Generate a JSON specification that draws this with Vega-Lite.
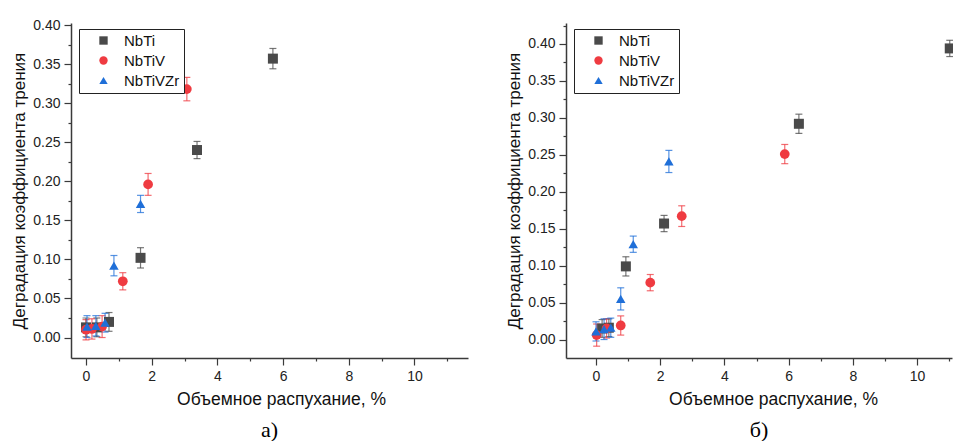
{
  "$schema": "https://vega.github.io/schema/vega-lite/v6.json",
  "background": "white",
  "padding": {"left": 10, "top": 18, "right": 0, "bottom": 0},
  "bounds": "flush",
  "spacing": 98,
  "config": {
    "view": {"stroke": null},
    "font": "Liberation Sans",
    "axis": {
      "grid": false,
      "domainColor": "#3a3a3a",
      "domainWidth": 1.5,
      "tickColor": "#3a3a3a",
      "tickWidth": 1.2,
      "labelFont": "Liberation Sans",
      "labelFontSize": 14,
      "labelColor": "#222222",
      "labelPadding": 4,
      "labelOverlap": false,
      "labelFlush": false,
      "titleFont": "Liberation Sans",
      "titleFontSize": 17.5,
      "titleFontWeight": "normal",
      "titleColor": "#111111",
      "titlePadding": 7
    },
    "axisY": {"titleFontSize": 17, "titlePadding": 4},
    "legend": {
      "orient": "none",
      "legendX": 8,
      "legendY": 6,
      "strokeColor": "#222222",
      "fillColor": "white",
      "padding": 4,
      "labelFont": "Liberation Sans",
      "labelFontSize": 15,
      "labelColor": "#111111",
      "labelOffset": 13,
      "symbolOffset": 13,
      "rowPadding": 4,
      "symbolSize": 70,
      "symbolOpacity": 1,
      "symbolStrokeWidth": 0
    }
  },
  "datasets": {
    "a": [
      {"alloy": "NbTi", "x": 0.0, "y": 0.013, "err": 0.012},
      {"alloy": "NbTi", "x": 0.33, "y": 0.013, "err": 0.012},
      {"alloy": "NbTi", "x": 0.7, "y": 0.02, "err": 0.012},
      {"alloy": "NbTi", "x": 1.66, "y": 0.102, "err": 0.013},
      {"alloy": "NbTi", "x": 3.38, "y": 0.24, "err": 0.011},
      {"alloy": "NbTi", "x": 5.69, "y": 0.357, "err": 0.013},
      {"alloy": "NbTiV", "x": 0.0, "y": 0.01, "err": 0.013},
      {"alloy": "NbTiV", "x": 0.18, "y": 0.011, "err": 0.013},
      {"alloy": "NbTiV", "x": 0.49, "y": 0.014, "err": 0.014},
      {"alloy": "NbTiV", "x": 1.12, "y": 0.072, "err": 0.011},
      {"alloy": "NbTiV", "x": 1.89, "y": 0.196, "err": 0.014},
      {"alloy": "NbTiV", "x": 3.07, "y": 0.318, "err": 0.015},
      {"alloy": "NbTiVZr", "x": 0.03, "y": 0.014, "err": 0.014},
      {"alloy": "NbTiVZr", "x": 0.3, "y": 0.015, "err": 0.013},
      {"alloy": "NbTiVZr", "x": 0.58, "y": 0.019, "err": 0.012},
      {"alloy": "NbTiVZr", "x": 0.85, "y": 0.092, "err": 0.013},
      {"alloy": "NbTiVZr", "x": 1.66, "y": 0.171, "err": 0.011}
    ],
    "b": [
      {"alloy": "NbTi", "x": 0.19, "y": 0.015, "err": 0.012},
      {"alloy": "NbTi", "x": 0.4, "y": 0.016, "err": 0.012},
      {"alloy": "NbTi", "x": 0.93, "y": 0.099, "err": 0.013},
      {"alloy": "NbTi", "x": 2.12, "y": 0.157, "err": 0.011},
      {"alloy": "NbTi", "x": 6.32, "y": 0.292, "err": 0.013},
      {"alloy": "NbTi", "x": 11.02, "y": 0.394, "err": 0.011},
      {"alloy": "NbTiV", "x": 0.02, "y": 0.006, "err": 0.015},
      {"alloy": "NbTiV", "x": 0.33, "y": 0.015, "err": 0.013},
      {"alloy": "NbTiV", "x": 0.77, "y": 0.019, "err": 0.013},
      {"alloy": "NbTiV", "x": 1.69, "y": 0.077, "err": 0.011},
      {"alloy": "NbTiV", "x": 2.67, "y": 0.167, "err": 0.014},
      {"alloy": "NbTiV", "x": 5.88, "y": 0.251, "err": 0.013},
      {"alloy": "NbTiVZr", "x": 0.0, "y": 0.011, "err": 0.013},
      {"alloy": "NbTiVZr", "x": 0.25, "y": 0.014, "err": 0.014},
      {"alloy": "NbTiVZr", "x": 0.46, "y": 0.016, "err": 0.013},
      {"alloy": "NbTiVZr", "x": 0.77, "y": 0.055, "err": 0.015},
      {"alloy": "NbTiVZr", "x": 1.16, "y": 0.129, "err": 0.011},
      {"alloy": "NbTiVZr", "x": 2.27, "y": 0.241, "err": 0.015}
    ]
  },
  "resolve": {"scale": {"x": "independent", "y": "independent"}, "legend": {"color": "independent", "shape": "independent"}},
  "hconcat": [
    {
      "width": 397,
      "height": 335,
      "data": {"name": "a"},
      "title": {"text": "а)", "orient": "bottom", "anchor": "middle", "font": "Liberation Serif", "fontSize": 22, "fontWeight": "normal", "color": "#000000", "offset": 12},
      "encoding": {
        "x": {
          "field": "x", "type": "quantitative",
          "scale": {"domain": [-0.457, 11.63], "nice": false, "zero": false},
          "axis": {
            "title": "Объемное распухание, %",
            "titleX": 210,
            "values": [0, 1, 2, 3, 4, 5, 6, 7, 8, 9, 10, 11],
            "labelExpr": "datum.value % 2 === 0 ? datum.label : ''",
            "tickSize": {"condition": {"test": "datum.value % 2 === 0", "value": 7}, "value": 3}
          }
        },
        "y": {
          "field": "y", "type": "quantitative",
          "scale": {"domain": [-0.0262, 0.4026], "nice": false, "zero": false},
          "axis": {
            "title": "Деградация коэффициента трения",
            "format": ".2f",
            "values": [0, 0.025, 0.05, 0.075, 0.1, 0.125, 0.15, 0.175, 0.2, 0.225, 0.25, 0.275, 0.3, 0.325, 0.35, 0.375, 0.4],
            "labelExpr": "round(datum.value * 1000) % 50 === 0 ? datum.label : ''",
            "tickSize": {"condition": {"test": "round(datum.value * 1000) % 50 === 0", "value": 7}, "value": 3}
          }
        },
        "color": {
          "field": "alloy", "type": "nominal", "title": null,
          "scale": {"domain": ["NbTi", "NbTiV", "NbTiVZr"], "range": ["#4a4a4a", "#ef3b41", "#1f6fd8"]}
        }
      },
      "layer": [
        {
          "mark": {"type": "errorbar", "ticks": {"size": 7, "thickness": 1.2}, "thickness": 1.2, "opacity": 0.75},
          "encoding": {"yError": {"field": "err"}}
        },
        {
          "mark": {"type": "point", "filled": true, "opacity": 1},
          "encoding": {
            "shape": {"field": "alloy", "type": "nominal", "title": null, "scale": {"domain": ["NbTi", "NbTiV", "NbTiVZr"], "range": ["square", "circle", "triangle-up"]}},
            "size": {"field": "alloy", "type": "nominal", "legend": null, "scale": {"domain": ["NbTi", "NbTiV", "NbTiVZr"], "range": [100, 90, 170]}}
          }
        }
      ]
    },
    {
      "width": 386,
      "height": 335,
      "data": {"name": "b"},
      "title": {"text": "б)", "orient": "bottom", "anchor": "middle", "font": "Liberation Serif", "fontSize": 22, "fontWeight": "normal", "color": "#000000", "offset": 12},
      "encoding": {
        "x": {
          "field": "x", "type": "quantitative",
          "scale": {"domain": [-0.935, 11.09], "nice": false, "zero": false},
          "axis": {
            "title": "Объемное распухание, %",
            "titleX": 207,
            "values": [0, 1, 2, 3, 4, 5, 6, 7, 8, 9, 10, 11],
            "labelExpr": "datum.value % 2 === 0 ? datum.label : ''",
            "tickSize": {"condition": {"test": "datum.value % 2 === 0", "value": 7}, "value": 3}
          }
        },
        "y": {
          "field": "y", "type": "quantitative",
          "scale": {"domain": [-0.025, 0.4284], "nice": false, "zero": false},
          "axis": {
            "title": "Деградация коэффициента трения",
            "format": ".2f",
            "values": [0, 0.025, 0.05, 0.075, 0.1, 0.125, 0.15, 0.175, 0.2, 0.225, 0.25, 0.275, 0.3, 0.325, 0.35, 0.375, 0.4, 0.425],
            "labelExpr": "round(datum.value * 1000) % 50 === 0 ? datum.label : ''",
            "tickSize": {"condition": {"test": "round(datum.value * 1000) % 50 === 0", "value": 7}, "value": 3}
          }
        },
        "color": {
          "field": "alloy", "type": "nominal", "title": null,
          "scale": {"domain": ["NbTi", "NbTiV", "NbTiVZr"], "range": ["#4a4a4a", "#ef3b41", "#1f6fd8"]}
        }
      },
      "layer": [
        {
          "mark": {"type": "errorbar", "ticks": {"size": 7, "thickness": 1.2}, "thickness": 1.2, "opacity": 0.75},
          "encoding": {"yError": {"field": "err"}}
        },
        {
          "mark": {"type": "point", "filled": true, "opacity": 1},
          "encoding": {
            "shape": {"field": "alloy", "type": "nominal", "title": null, "scale": {"domain": ["NbTi", "NbTiV", "NbTiVZr"], "range": ["square", "circle", "triangle-up"]}},
            "size": {"field": "alloy", "type": "nominal", "legend": null, "scale": {"domain": ["NbTi", "NbTiV", "NbTiVZr"], "range": [100, 90, 170]}}
          }
        }
      ]
    }
  ]
}
